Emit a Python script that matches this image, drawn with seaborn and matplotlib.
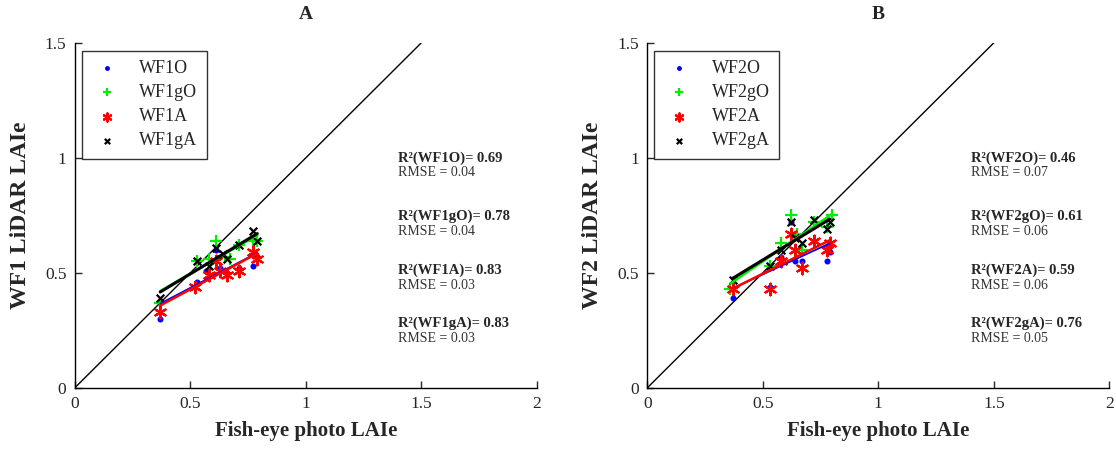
import numpy as np
import pandas as pd
import matplotlib
matplotlib.use("Agg")
import matplotlib.pyplot as plt
import seaborn as sns

sns.set_style("ticks")
plt.rcParams['font.family'] = ['Liberation Serif', 'DejaVu Serif']

# ---- data ----
# panel A (WF1)
a_o_x = [0.37, 0.53, 0.57, 0.61, 0.63, 0.66, 0.71, 0.77, 0.79]
a_o_y = [0.30, 0.46, 0.51, 0.60, 0.52, 0.50, 0.52, 0.53, 0.57]
a_go_x = [0.37, 0.53, 0.58, 0.61, 0.65, 0.67, 0.71, 0.77, 0.79]
a_go_y = [0.37, 0.55, 0.56, 0.64, 0.57, 0.56, 0.62, 0.64, 0.64]
a_a_x = [0.37, 0.52, 0.58, 0.61, 0.63, 0.66, 0.71, 0.77, 0.79]
a_a_y = [0.33, 0.44, 0.49, 0.55, 0.51, 0.49, 0.51, 0.59, 0.56]
a_ga_x = [0.37, 0.53, 0.58, 0.61, 0.64, 0.66, 0.71, 0.77, 0.79]
a_ga_y = [0.39, 0.55, 0.53, 0.61, 0.58, 0.56, 0.62, 0.68, 0.64]

# panel B (WF2)
b_o_x = [0.37, 0.53, 0.58, 0.62, 0.64, 0.67, 0.72, 0.78, 0.79]
b_o_y = [0.39, 0.44, 0.57, 0.72, 0.55, 0.55, 0.64, 0.55, 0.59]
b_go_x = [0.36, 0.53, 0.58, 0.62, 0.65, 0.67, 0.72, 0.78, 0.80]
b_go_y = [0.43, 0.53, 0.63, 0.75, 0.67, 0.60, 0.72, 0.70, 0.75]
b_a_x = [0.37, 0.53, 0.58, 0.62, 0.64, 0.67, 0.72, 0.78, 0.79]
b_a_y = [0.43, 0.43, 0.55, 0.67, 0.60, 0.52, 0.64, 0.60, 0.63]
b_ga_x = [0.37, 0.53, 0.58, 0.62, 0.64, 0.67, 0.72, 0.78, 0.79]
b_ga_y = [0.47, 0.53, 0.60, 0.72, 0.65, 0.63, 0.73, 0.69, 0.72]

one_to_one = [0, 1.5]

panels = [
    dict(title="A", site="WF1",
         series=[(a_o_x, a_o_y), (a_go_x, a_go_y), (a_a_x, a_a_y), (a_ga_x, a_ga_y)],
         r2=["0.69", "0.78", "0.83", "0.83"], rmse=["0.04", "0.04", "0.03", "0.03"]),
    dict(title="B", site="WF2",
         series=[(b_o_x, b_o_y), (b_go_x, b_go_y), (b_a_x, b_a_y), (b_ga_x, b_ga_y)],
         r2=["0.46", "0.61", "0.59", "0.76"], rmse=["0.07", "0.06", "0.06", "0.05"]),
]

suffixes = ["O", "gO", "A", "gA"]
colors = ["#0000ff", "#00ee00", "#ff0000", "#000000"]
markers = [".", "+", (6, 2, 0), "x"]
msizes = [30, 70, 70, 30]
line_w = [1.3, 1.8, 1.8, 2.2]

fig = plt.figure(figsize=(11.16, 4.51), dpi=100)
lefts = [0.067, 0.580]

for left, p in zip(lefts, panels):
    ax = fig.add_axes([left, 0.14, 0.414, 0.765])
    sns.lineplot(x=one_to_one, y=one_to_one, color="black", lw=1, ax=ax)

    handles = []
    for (xs, ys), suf, c, m, s in zip(p["series"], suffixes, colors, markers, msizes):
        h = ax.scatter(xs, ys, color=c, marker=m, s=s, linewidths=1.6, zorder=3,
                       label=p["site"] + suf)
        handles.append(h)
    for (xs, ys), c, w in zip(p["series"], colors, line_w):
        sns.regplot(x=np.array(xs), y=np.array(ys), scatter=False, ci=None,
                    color=c, line_kws=dict(lw=w, zorder=4), ax=ax)

    ax.set_xlim(0, 2)
    ax.set_ylim(0, 1.5)
    ax.set_xticks([0, 0.5, 1, 1.5, 2])
    ax.set_xticklabels(["0", "0.5", "1", "1.5", "2"])
    ax.set_yticks([0, 0.5, 1, 1.5])
    ax.set_yticklabels(["0", "0.5", "1", "1.5"])
    ax.tick_params(direction="in", labelsize=12.5, length=5, width=1, pad=6)
    sns.despine(ax=ax)
    for sp in ["left", "bottom"]:
        ax.spines[sp].set_linewidth(1)
        ax.spines[sp].set_color("black")

    ax.set_xlabel("Fish-eye photo LAIe", fontsize=15, fontweight="bold", labelpad=6)
    ax.set_ylabel(p["site"] + " LiDAR LAIe", fontsize=17, fontweight="bold", labelpad=10)
    ax.set_title(p["title"], fontsize=14, fontweight="bold", pad=17)

    leg = ax.legend(handles=handles, loc="upper left", bbox_to_anchor=(0.015, 0.977),
                    borderaxespad=0, fontsize=13, frameon=True, fancybox=False,
                    handlelength=1.8, handletextpad=0.9, labelspacing=0.4,
                    borderpad=0.5, markerscale=0.7)
    leg.get_frame().set_edgecolor("black")
    leg.get_frame().set_linewidth(1)

    r2_y = [1.00, 0.745, 0.51, 0.28]
    for i, suf in enumerate(suffixes):
        ax.text(1.40, r2_y[i], "R\u00b2(" + p["site"] + suf + ")= " + p["r2"][i],
                fontsize=10.5, fontweight="bold", va="center")
        ax.text(1.40, r2_y[i] - 0.065, "RMSE = " + p["rmse"][i],
                fontsize=10, color="#333333", va="center")

fig.savefig("out.png", dpi=100)
